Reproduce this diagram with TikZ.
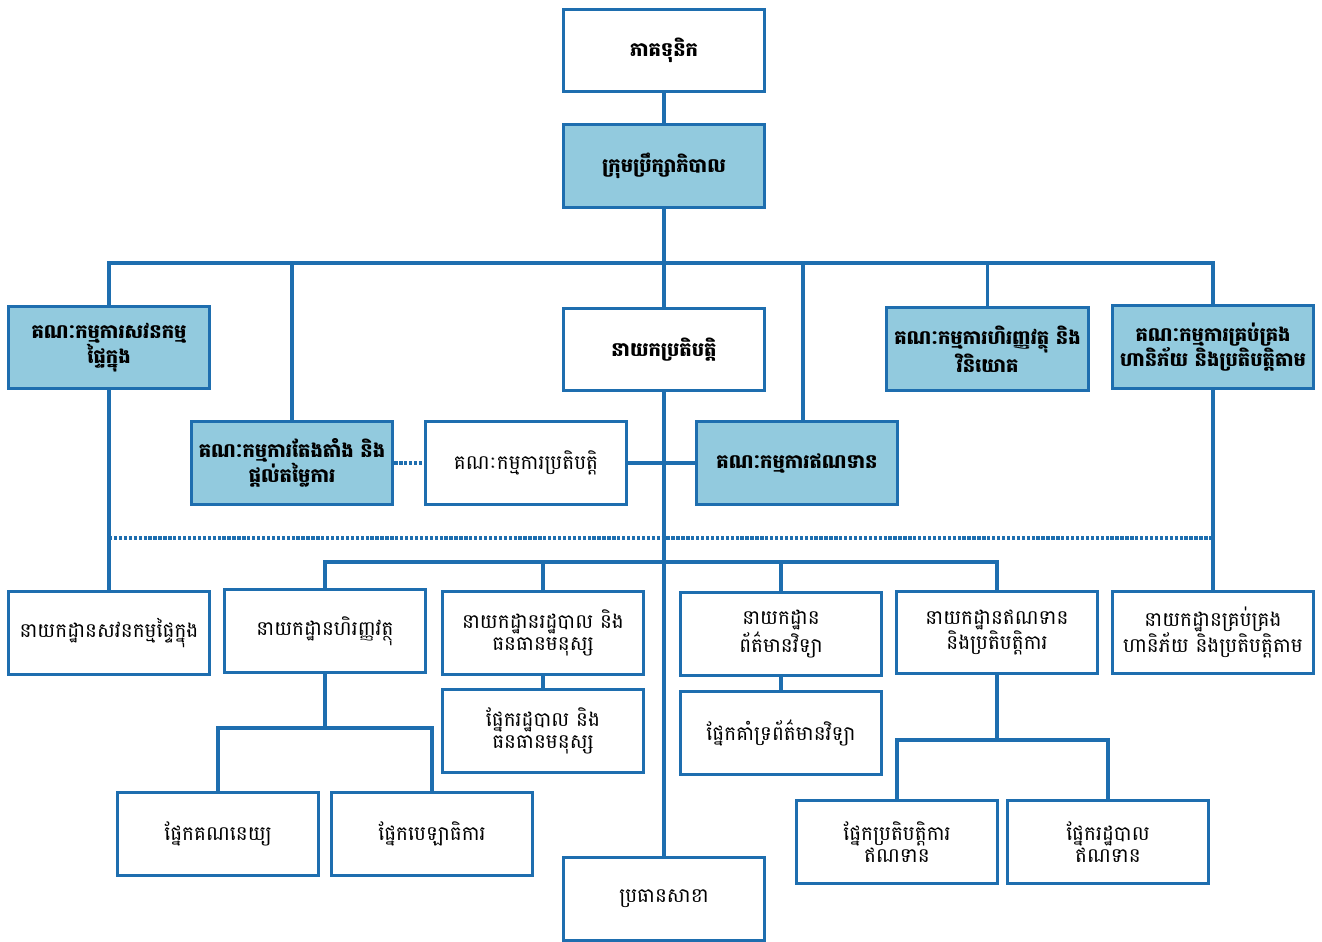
\documentclass[tikz,border=0pt]{standalone}
\usepackage{fontspec}
\newfontfamily\kh[Script=Khmer]{Battambang}
\definecolor{lineblue}{RGB}{30,110,175}
\definecolor{fillblue}{RGB}{146,202,222}
\begin{document}
\begin{tikzpicture}[x=0.75pt,y=-0.75pt,
  box/.style={draw=lineblue,line width=2.4pt,fill=white,minimum width=151pt,minimum height=62pt,
    align=center,inner sep=2pt,font=\kh\fontsize{15}{16}\selectfont,text=black},
  bbox/.style={box,font=\kh\bfseries\fontsize{14.6}{16}\selectfont},
  hbox/.style={bbox,fill=fillblue},
  conn/.style={draw=lineblue,line width=2.4pt},
  dconn/.style={conn,dash pattern=on 2.5pt off 1.2pt}]
\useasboundingbox (0,0) rectangle (1322,942);
% nodes
\node[bbox] (sh) at (664,50.5) {ភាគទុនិក};
\node[hbox] (board) at (664,166) {ក្រុមប្រឹក្សាភិបាល};
\node[hbox] (audit) at (109,347.5) {គណៈកម្មការសវនកម្ម\\ផ្ទៃក្នុង};
\node[bbox] (ceo) at (664,349.5) {នាយកប្រតិបត្តិ};
\node[hbox] (fin) at (987.5,349) {គណៈកម្មការហិរញ្ញវត្ថុ និង\\វិនិយោគ};
\node[hbox] (risk) at (1213,347) {គណៈកម្មការគ្រប់គ្រង\\ហានិភ័យ និងប្រតិបត្តិតាម};
\node[hbox] (nom) at (292,463) {គណៈកម្មការតែងតាំង និង\\ផ្តល់តម្លៃការ};
\node[box] (exec) at (526,463) {គណៈកម្មការប្រតិបត្តិ};
\node[hbox] (cred) at (797,463) {គណៈកម្មការឥណទាន};
\node[box] (auditdept) at (109,633) {នាយកដ្ឋានសវនកម្មផ្ទៃក្នុង};
\node[box] (findept) at (325,631) {នាយកដ្ឋានហិរញ្ញវត្ថុ};
\node[box] (hrdept) at (543,633) {នាយកដ្ឋានរដ្ឋបាល និង\\ធនធានមនុស្ស};
\node[box] (itdept) at (781,634) {នាយកដ្ឋាន\\ព័ត៌មានវិទ្យា};
\node[box] (creddept) at (997,632.5) {នាយកដ្ឋានឥណទាន\\និងប្រតិបត្តិការ};
\node[box] (riskdept) at (1213,632.5) {នាយកដ្ឋានគ្រប់គ្រង\\ហានិភ័យ និងប្រតិបត្តិតាម};
\node[box] (hrsec) at (543,731) {ផ្នែករដ្ឋបាល និង\\ធនធានមនុស្ស};
\node[box] (itsec) at (781,733) {ផ្នែកគាំទ្រព័ត៌មានវិទ្យា};
\node[box] (acc) at (218,834) {ផ្នែកគណនេយ្យ};
\node[box] (teller) at (432,834) {ផ្នែកបេឡាធិការ};
\node[box] (credops) at (897,842) {ផ្នែកប្រតិបត្តិការ\\ឥណទាន};
\node[box] (credadm) at (1108,842) {ផ្នែករដ្ឋបាល\\ឥណទាន};
\node[box] (branch) at (664,899) {ប្រធានសាខា};
% bus coordinates
\coordinate (bus1) at (664,263);
\coordinate (bus2) at (664,562);
\coordinate (dl) at (664,538);
\coordinate (bus3) at (325,728);
\coordinate (bus4) at (997,740);
% connectors
\draw[conn] (sh.south) -- (board.north);
\draw[conn] (board.south) -- (bus1);
\draw[conn] (audit.north) |- (bus1) -| (risk.north);
\draw[conn] (ceo.north) -- (ceo.north |- bus1);
\draw[conn] (fin.north) -- (fin.north |- bus1);
\draw[conn] (nom.north) -- (nom.north |- bus1);
\draw[conn] ([xshift=4.5pt]cred.north) -- ([xshift=4.5pt]cred.north |- bus1);
\draw[dconn] (nom.east) -- (exec.west);
\draw[conn] (exec.east) -- (cred.west);
\draw[conn] (ceo.south) -- (branch.north);
\draw[conn] (audit.south) -- (auditdept.north);
\draw[conn] (risk.south) -- (riskdept.north);
\draw[dconn] (auditdept.north |- dl) -- (riskdept.north |- dl);
\draw[conn] (findept.north) |- (bus2) -| (creddept.north);
\draw[conn] (hrdept.north) -- (hrdept.north |- bus2);
\draw[conn] (itdept.north) -- (itdept.north |- bus2);
\draw[conn] (hrdept.south) -- (hrsec.north);
\draw[conn] (itdept.south) -- (itsec.north);
\draw[conn] (findept.south) -- (bus3);
\draw[conn] (acc.north) |- (bus3) -| (teller.north);
\draw[conn] (creddept.south) -- (bus4);
\draw[conn] (credops.north) |- (bus4) -| (credadm.north);
\end{tikzpicture}
\end{document}
